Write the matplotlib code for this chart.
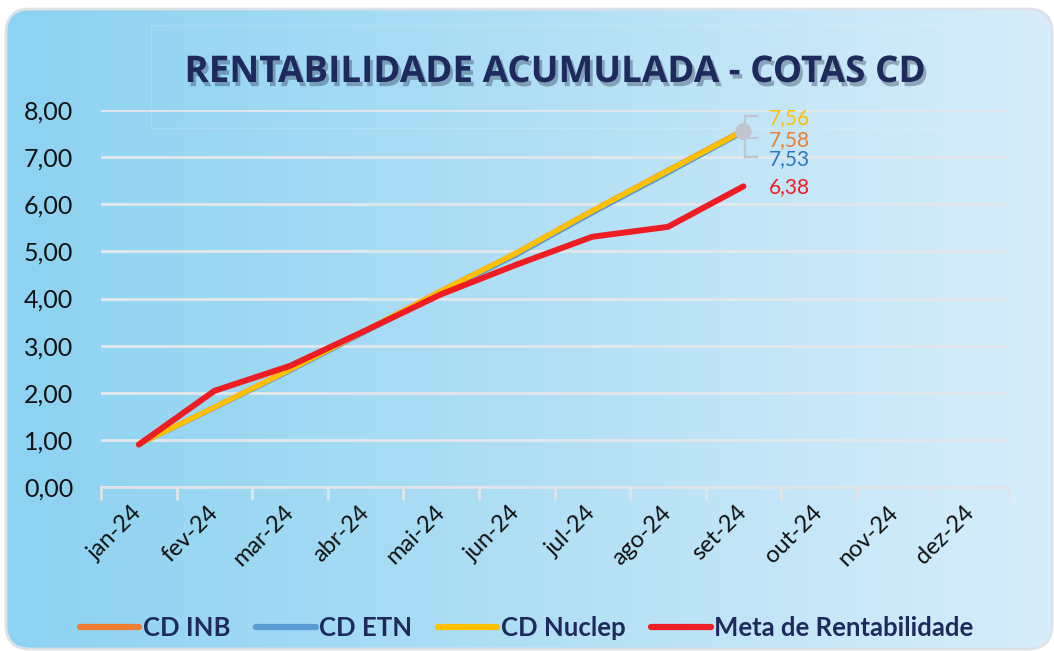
import numpy as np
import matplotlib.pyplot as plt
import matplotlib.patheffects as pe
from matplotlib.patches import FancyBboxPatch, Rectangle
from matplotlib.lines import Line2D
from matplotlib.colors import LinearSegmentedColormap
from matplotlib.transforms import IdentityTransform

meses = ["jan-24", "fev-24", "mar-24", "abr-24", "mai-24", "jun-24",
         "jul-24", "ago-24", "set-24", "out-24", "nov-24", "dez-24"]
cd_inb = [0.91, 1.70, 2.50, 3.33, 4.17, 4.98, 5.87, 6.73, 7.58]
cd_etn = [0.90, 1.67, 2.46, 3.29, 4.12, 4.92, 5.81, 6.66, 7.53]
cd_nuclep = [0.91, 1.69, 2.49, 3.32, 4.16, 4.97, 5.86, 6.71, 7.56]
meta = [0.90, 2.04, 2.57, 3.32, 4.09, 4.72, 5.31, 5.52, 6.38]

c_inb = "#ED7D31"
c_etn = "#5B9BD5"
c_nuc = "#FFC000"
c_meta = "#EE1D23"
navy = "#1F2A5C"

plt.rcParams["font.family"] = ["Lato", "DejaVu Sans"]

fig = plt.figure(figsize=(10.54, 6.51), dpi=100)

# fundo com gradiente e cantos arredondados
bg = fig.add_axes([0, 0, 1, 1], zorder=0)
bg.set_xlim(0, 1054)
bg.set_ylim(651, 0)
bg.axis("off")
cmap = LinearSegmentedColormap.from_list("bg", ["#8CD2F1", "#B0DFF5", "#D8EEFA"])
grad = np.linspace(0, 1, 256).reshape(1, -1)
im = bg.imshow(grad, extent=[6, 1052, 700, 9], cmap=cmap, aspect="auto")
box = FancyBboxPatch((6, 9), 1046, 640, boxstyle="round,pad=0,rounding_size=24",
                     fc="none", ec="#DDE2E8", lw=2)
bg.add_patch(box)
im.set_clip_path(box)
bg.add_patch(Rectangle((151, 25), 807, 103, fc="none", ec="white", lw=1, alpha=0.15))

ax = fig.add_axes([101 / 1054, 1 - 487 / 651, 907 / 1054, 377 / 651], zorder=1)
ax.patch.set_alpha(0)

x = np.arange(len(meses))
n = len(cd_inb)
ax.plot(x[:n], cd_inb, color=c_inb, lw=3.2, solid_capstyle="round", zorder=3)
ax.plot(x[:n], cd_etn, color=c_etn, lw=3.2, solid_capstyle="round", zorder=3)
ax.plot(x[:n], cd_nuclep, color=c_nuc, lw=3.8, solid_capstyle="round", zorder=4)
ax.plot(x[:n], meta, color=c_meta, lw=4.3, solid_capstyle="round", zorder=5)

ax.set_xlim(-0.5, len(meses) - 0.5)
ax.set_ylim(0, 8)
ax.set_yticks(range(0, 9))
ax.set_yticklabels([f"{v:.2f}".replace(".", ",") for v in range(0, 9)], fontsize=18)
ax.yaxis.grid(True, color="#E3E7EB", lw=2)
ax.set_axisbelow(True)
ax.tick_params(axis="y", length=0, pad=20, colors="#111111")

ax.set_xticks(np.arange(-0.5, len(meses), 1))
ax.set_xticklabels([])
ax.set_xticks(x, minor=True)
ax.set_xticklabels(meses, minor=True, rotation=45, ha="right", va="center",
                   rotation_mode="anchor", fontsize=17)
ax.tick_params(axis="x", which="major", length=9, width=2, color="#E0E4E8")
ax.tick_params(axis="x", which="minor", length=0, pad=16, colors="#111111")

for s in ["top", "right", "left"]:
    ax.spines[s].set_visible(False)
ax.spines["bottom"].set_color("#E0E4E8")
ax.spines["bottom"].set_linewidth(2)

# rótulos dos últimos valores
last = n - 1
ax.plot(last, cd_nuclep[last], "o", ms=11, color="#BFC6D0", zorder=6)
fig.canvas.draw()
px, py = ax.transData.transform((last, cd_nuclep[last]))
grey = "#BFC6D0"
for xs, ys in [([px + 2, px + 2], [py + 15, py - 26]),
               ([px + 2, px + 14], [py + 15, py + 15]),
               ([px + 4, px + 14], [py - 7, py - 7]),
               ([px + 2, px + 14], [py - 26, py - 26])]:
    fig.add_artist(Line2D(xs, ys, transform=IdentityTransform(), color=grey, lw=1.6, zorder=5))

lbl = lambda v: f"{v:.2f}".replace(".", ",")
ax.annotate(lbl(cd_nuclep[last]), (last, cd_nuclep[last]), xytext=(25, 13),
            textcoords="offset pixels", color=c_nuc, fontsize=15, va="center")
ax.annotate(lbl(cd_inb[last]), (last, cd_nuclep[last]), xytext=(25, -9),
            textcoords="offset pixels", color=c_inb, fontsize=15, va="center")
ax.annotate(lbl(cd_etn[last]), (last, cd_nuclep[last]), xytext=(25, -28),
            textcoords="offset pixels", color="#2E75B6", fontsize=15, va="center")
ax.annotate(lbl(meta[last]), (last, meta[last]), xytext=(25, -1),
            textcoords="offset pixels", color=c_meta, fontsize=15, va="center")

fig.text(554 / 1054, 1 - 72 / 651, "RENTABILIDADE ACUMULADA - COTAS CD",
         ha="center", va="center", fontsize=26.5, fontweight="bold", color=navy,
         family=["Open Sans", "DejaVu Sans"],
         path_effects=[pe.SimplePatchShadow(offset=(2, -3), shadow_rgbFace="#33415f", alpha=0.4),
                       pe.Normal()])

handles = [Line2D([], [], color=c, lw=4.5, solid_capstyle="round")
           for c in [c_inb, c_etn, c_nuc, c_meta]]
leg = fig.legend(handles, ["CD INB", "CD ETN", "CD Nuclep", "Meta de Rentabilidade"],
                 loc="center", bbox_to_anchor=(527 / 1054, 1 - 628 / 651), ncol=4,
                 frameon=False, handlelength=2.3, handletextpad=0.15, columnspacing=1.0,
                 prop={"size": 18.5, "weight": "bold"})
for t in leg.get_texts():
    t.set_color(navy)

fig.savefig("out.png", dpi=100)
